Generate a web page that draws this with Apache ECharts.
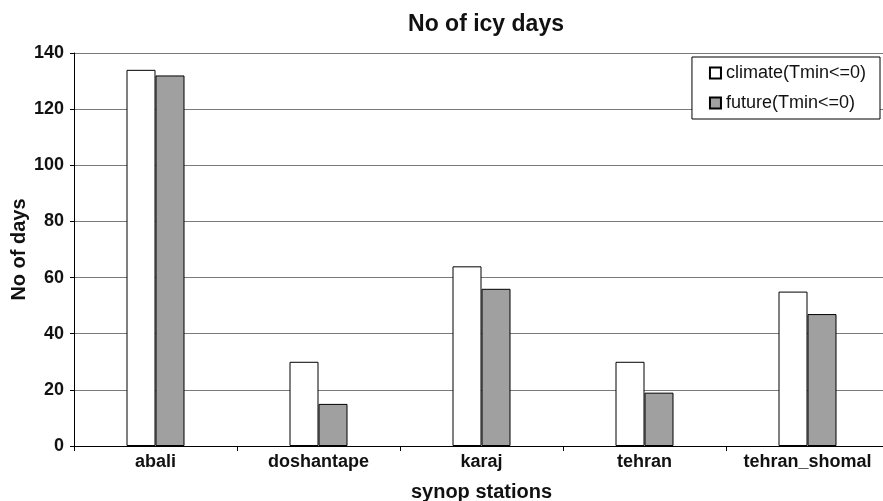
<!DOCTYPE html>
<html>
<head>
<meta charset="utf-8">
<script src="https://cdn.jsdelivr.net/npm/echarts@6/dist/echarts.min.js"></script>
<style>
  html, body { margin: 0; padding: 0; background: #fff; }
  #main { width: 883px; height: 501px; }
</style>
</head>
<body>
<div id="main"></div>
<script>
// stations and values
var stations = ['abali', 'doshantape', 'karaj', 'tehran', 'tehran_shomal'];
var climateDays = [134, 30, 64, 30, 55];
var futureDays = [132, 15, 56, 19, 47];

var myChart = echarts.init(document.getElementById('main'));
var font = 'Liberation Sans, Arial, sans-serif';

var option = {
  backgroundColor: '#fff',
  animation: false,
  textStyle: { fontFamily: font },
  title: {
    text: 'No of icy days',
    left: 481,
    textAlign: 'center',
    top: 8,
    textStyle: { fontFamily: font, fontSize: 23, fontWeight: 'bold', color: '#111' }
  },
  legend: {
    orient: 'vertical',
    right: 3,
    top: 57,
    padding: [7, 14, 7, 17],
    itemGap: 12,
    itemWidth: 11,
    itemHeight: 11,
    icon: 'rect',
    backgroundColor: '#fff',
    borderColor: '#000',
    borderWidth: 1,
    borderRadius: 0,
    textStyle: { fontFamily: font, fontSize: 18, color: '#111' },
    data: ['climate(Tmin<=0)', 'future(Tmin<=0)']
  },
  grid: {
    left: 74,
    top: 53,
    width: 815,
    height: 393,
    containLabel: false,
    outerBoundsMode: 'none'
  },
  xAxis: {
    type: 'category',
    data: stations,
    name: 'synop stations',
    nameLocation: 'middle',
    nameGap: 36,
    nameMoveOverlap: false,
    nameTextStyle: { fontFamily: font, fontSize: 20, fontWeight: 'bold', color: '#111' },
    axisLine: { lineStyle: { color: '#000', width: 1 } },
    axisTick: { show: true, length: 5, lineStyle: { color: '#000' } },
    axisLabel: { interval: 0, hideOverlap: false, fontFamily: font, fontSize: 18, fontWeight: 'bold', color: '#111', margin: 7 }
  },
  yAxis: {
    type: 'value',
    min: 0,
    max: 140,
    interval: 20,
    name: 'No of days',
    nameLocation: 'middle',
    nameRotate: 90,
    nameGap: 45,
    nameMoveOverlap: false,
    nameTextStyle: { fontFamily: font, fontSize: 20, fontWeight: 'bold', color: '#111' },
    axisLine: { show: true, lineStyle: { color: '#000', width: 1 } },
    axisTick: { show: true, length: 4, lineStyle: { color: '#000' } },
    axisLabel: { fontFamily: font, fontSize: 18, fontWeight: 'bold', color: '#111', margin: 10 },
    splitLine: { lineStyle: { color: '#7a7a7a', width: 1 } }
  },
  series: [
    {
      name: 'climate(Tmin<=0)',
      type: 'bar',
      data: climateDays,
      barWidth: 29,
      barGap: '0%',
      itemStyle: { color: '#fff', borderColor: '#000', borderWidth: 1 }
    },
    {
      name: 'future(Tmin<=0)',
      type: 'bar',
      data: futureDays,
      barWidth: 29,
      barGap: '0%',
      itemStyle: { color: '#a0a0a0', borderColor: '#000', borderWidth: 1 }
    }
  ]
};

myChart.setOption(option);
</script>
</body>
</html>
